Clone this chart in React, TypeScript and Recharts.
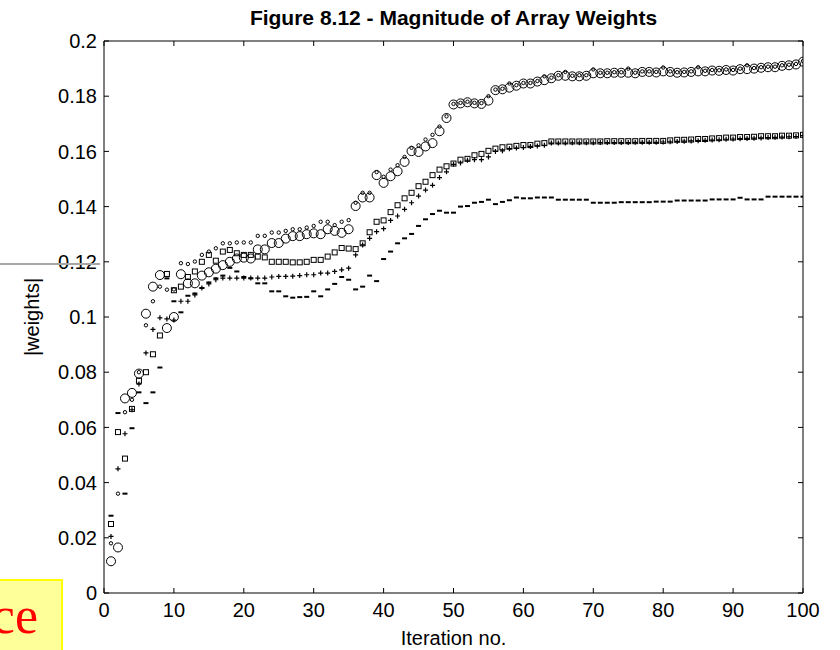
import { ScatterChart, Scatter, XAxis, YAxis, Label } from 'recharts'

// iteration numbers 1..100 (x categories)
const iterations = Array.from({ length: 100 }, (_, i) => i + 1)

// large circles
const circleWeights = [
  0.0115, 0.0165, 0.0705, 0.0725, 0.0795, 0.1012, 0.111, 0.1152, 0.096, 0.1,
  0.1155, 0.1122, 0.1122, 0.115, 0.1162, 0.1175, 0.1188, 0.12, 0.1212, 0.1215,
  0.1212, 0.1245, 0.1245, 0.1268, 0.1268, 0.1284, 0.1293, 0.1293, 0.13, 0.1303,
  0.13, 0.1318, 0.1312, 0.1305, 0.1318, 0.1402, 0.1433, 0.1433, 0.1514, 0.1486,
  0.151, 0.1528, 0.1562, 0.1601, 0.1598, 0.1618, 0.163, 0.1673, 0.1721, 0.177,
  0.1774, 0.1778, 0.1774, 0.1772, 0.1784, 0.1822, 0.1825, 0.1831, 0.1838, 0.1846,
  0.1846, 0.1853, 0.1858, 0.1865, 0.1874, 0.1874, 0.1872, 0.1872, 0.1874, 0.1883,
  0.1883, 0.1883, 0.1885, 0.1885, 0.1885, 0.1883, 0.1888, 0.1888, 0.1886, 0.189,
  0.1888, 0.1885, 0.1886, 0.1888, 0.189, 0.189, 0.1893, 0.1892, 0.1895, 0.1893,
  0.1898, 0.1898, 0.19, 0.1903, 0.1905, 0.1905, 0.191, 0.1912, 0.1915, 0.1925,
]

// small rings
const dotWeights = [
  0.018, 0.036, 0.0655, 0.07, 0.08, 0.097, 0.1057, 0.111, 0.1099, 0.11,
  0.1195, 0.1192, 0.1201, 0.1225, 0.1237, 0.1249, 0.1267, 0.1267, 0.127, 0.127,
  0.127, 0.1294, 0.1294, 0.1306, 0.1306, 0.1312, 0.1318, 0.1318, 0.1324, 0.133,
  0.1345, 0.1345, 0.1333, 0.1345, 0.1351, 0.1414, 0.145, 0.145, 0.1525, 0.1508,
  0.1534, 0.155, 0.158, 0.1613, 0.1622, 0.1643, 0.166, 0.169, 0.1727, 0.1772,
  0.1776, 0.178, 0.1776, 0.1775, 0.18, 0.1824, 0.1827, 0.1846, 0.184, 0.1848,
  0.1848, 0.1855, 0.1872, 0.1867, 0.1876, 0.1888, 0.1874, 0.1876, 0.1876, 0.1897,
  0.1885, 0.1885, 0.1887, 0.1887, 0.19, 0.1885, 0.189, 0.189, 0.1888, 0.1904,
  0.189, 0.1887, 0.1888, 0.189, 0.1905, 0.1892, 0.1895, 0.1894, 0.1897, 0.1895,
  0.19, 0.1912, 0.1902, 0.1905, 0.1907, 0.1907, 0.1912, 0.1914, 0.1917, 0.1927,
]

// squares
const squareWeights = [
  0.025, 0.0583, 0.0487, 0.0667, 0.0769, 0.08, 0.0865, 0.0933, 0.1156, 0.1097,
  0.111, 0.1145, 0.1165, 0.12, 0.1225, 0.1204, 0.1237, 0.1243, 0.1231, 0.1225,
  0.1225, 0.1219, 0.1216, 0.12, 0.12, 0.12, 0.1198, 0.1198, 0.12, 0.1207,
  0.1207, 0.1219, 0.1234, 0.125, 0.1248, 0.1246, 0.1267, 0.1307, 0.1345, 0.135,
  0.138, 0.1405, 0.143, 0.145, 0.1474, 0.149, 0.1514, 0.1534, 0.1546, 0.1556,
  0.157, 0.1573, 0.1586, 0.1591, 0.1602, 0.161, 0.1615, 0.1617, 0.162, 0.1623,
  0.1623, 0.1628, 0.163, 0.1636, 0.1636, 0.1636, 0.1636, 0.1636, 0.1636, 0.1636,
  0.1636, 0.1637, 0.1637, 0.1637, 0.1637, 0.1637, 0.1638, 0.1638, 0.1638, 0.1638,
  0.164, 0.1642, 0.1642, 0.1643, 0.1645, 0.1645, 0.1647, 0.1648, 0.165, 0.165,
  0.1652, 0.1652, 0.1653, 0.1655, 0.1655, 0.1655, 0.1657, 0.1657, 0.1658, 0.166,
]

// plus signs
const plusWeights = [
  0.0205, 0.045, 0.0577, 0.0664, 0.0757, 0.087, 0.0955, 0.0997, 0.0993, 0.0989,
  0.1057, 0.1057, 0.108, 0.1105, 0.112, 0.1135, 0.1141, 0.1141, 0.1141, 0.1141,
  0.1141, 0.1141, 0.1141, 0.1145, 0.1147, 0.1147, 0.1148, 0.115, 0.1153, 0.1153,
  0.1159, 0.1159, 0.1165, 0.1171, 0.1177, 0.1225, 0.1261, 0.1285, 0.1309, 0.132,
  0.135, 0.1366, 0.139, 0.1414, 0.1438, 0.146, 0.1477, 0.1505, 0.1526, 0.1553,
  0.1558, 0.1568, 0.157, 0.157, 0.158, 0.16, 0.1602, 0.161, 0.1612, 0.1614,
  0.1618, 0.162, 0.1622, 0.163, 0.163, 0.163, 0.1631, 0.1631, 0.1631, 0.1631,
  0.1632, 0.1632, 0.1632, 0.1632, 0.1632, 0.1633, 0.1633, 0.1633, 0.1633, 0.1634,
  0.1635, 0.1636, 0.1637, 0.1638, 0.1639, 0.164, 0.1641, 0.1642, 0.1644, 0.1645,
  0.1646, 0.1647, 0.1648, 0.1649, 0.165, 0.1651, 0.1652, 0.1653, 0.1654, 0.1657,
]

// short dashes
const dashWeights = [
  0.028, 0.0652, 0.036, 0.0597, 0.0727, 0.0688, 0.0727, 0.0817, 0.114, 0.1057,
  0.1017, 0.1077, 0.1085, 0.1105, 0.1125, 0.114, 0.115, 0.1178, 0.1165, 0.1145,
  0.114, 0.1122, 0.1122, 0.1093, 0.1093, 0.1075, 0.107, 0.1072, 0.1073, 0.1093,
  0.1075, 0.11, 0.112, 0.1145, 0.1135, 0.11, 0.111, 0.115, 0.113, 0.121,
  0.1237, 0.1267, 0.1285, 0.1301, 0.133, 0.1354, 0.1373, 0.1385, 0.1378, 0.1378,
  0.14, 0.1402, 0.1414, 0.1417, 0.1425, 0.1409, 0.1417, 0.1423, 0.1433, 0.143,
  0.143, 0.1433, 0.1433, 0.1433, 0.1425, 0.1425, 0.1425, 0.1425, 0.1425, 0.1414,
  0.1414, 0.1414, 0.1414, 0.1416, 0.1416, 0.1416, 0.1416, 0.1416, 0.1418, 0.1418,
  0.1418, 0.1422, 0.1422, 0.1422, 0.1422, 0.1422, 0.1426, 0.1426, 0.1426, 0.1426,
  0.1432, 0.1426, 0.1426, 0.1426, 0.1436, 0.1436, 0.1436, 0.1436, 0.1436, 0.1436,
]

const xTicks = [0, 10, 20, 30, 40, 50, 60, 70, 80, 90, 100]
const yTicks = [0, 0.02, 0.04, 0.06, 0.08, 0.1, 0.12, 0.14, 0.16, 0.18, 0.2]

const toPoints = (values: number[]) => values.map((w, i) => ({ x: iterations[i], y: w }))

const ink = '#000'

const BigRing = (p: any) => <circle cx={p.cx} cy={p.cy} r={4.5} fill="none" stroke={ink} strokeWidth={1} />
const SmallRing = (p: any) => <circle cx={p.cx} cy={p.cy} r={1.7} fill="none" stroke={ink} strokeWidth={1} />
const Box = (p: any) => <rect x={p.cx - 2.5} y={p.cy - 2.5} width={5} height={5} fill="none" stroke={ink} strokeWidth={1} />
const Plus = (p: any) => (
  <path d={`M${p.cx - 2.5},${p.cy}H${p.cx + 2.5}M${p.cx},${p.cy - 2.5}V${p.cy + 2.5}`} stroke={ink} strokeWidth={1.2} />
)
const Dash = (p: any) => <line x1={p.cx - 2.5} x2={p.cx + 2.5} y1={p.cy} y2={p.cy} stroke={ink} strokeWidth={2} />

const tickStyle = { fill: ink, fontSize: 20 }

export default function App() {
  return (
    <div
      style={{
        position: 'absolute', left: 0, top: 0, width: 840, height: 650,
        background: '#fff', fontFamily: '"Liberation Sans", Arial, sans-serif',
      }}
    >
      <ScatterChart width={840} height={650} margin={{ top: 40, right: 36, bottom: 0, left: 0 }}>
        <XAxis
          dataKey="x" type="number" domain={[0, 100]} ticks={xTicks} interval={0}
          allowDataOverflow height={57} tickSize={-5} tickMargin={15}
          stroke={ink} tick={tickStyle}
        >
          <Label value="Iteration no." position="insideBottom" offset={5} fill={ink} fontSize={20} />
        </XAxis>
        {/* mirror axes on top and right, MATLAB box style */}
        <XAxis
          xAxisId="top" orientation="top" dataKey="x" type="number" domain={[0, 100]} ticks={xTicks}
          interval={0} allowDataOverflow height={1} tickSize={-5} stroke={ink}
          tickFormatter={() => ''}
        />
        <YAxis
          dataKey="y" type="number" domain={[0, 0.2]} ticks={yTicks} interval={0}
          allowDataOverflow width={104} tickSize={-5} tickMargin={12}
          stroke={ink} tick={tickStyle}
        >
          <Label
            value="|weights|" angle={-90} position="insideLeft" offset={32}
            fill={ink} fontSize={20} style={{ textAnchor: 'middle' }}
          />
        </YAxis>
        <YAxis
          yAxisId="right" orientation="right" dataKey="y" type="number" domain={[0, 0.2]} ticks={yTicks}
          interval={0} allowDataOverflow width={1} tickSize={-5} stroke={ink}
          tickFormatter={() => ''}
        />
        <Scatter data={toPoints(dashWeights)} shape={Dash} isAnimationActive={false} />
        <Scatter data={toPoints(plusWeights)} shape={Plus} isAnimationActive={false} />
        <Scatter data={toPoints(squareWeights)} shape={Box} isAnimationActive={false} />
        <Scatter
          data={toPoints(dotWeights)} shape={SmallRing} xAxisId="top" yAxisId="right"
          isAnimationActive={false}
        />
        <Scatter data={toPoints(circleWeights)} shape={BigRing} isAnimationActive={false} />
      </ScatterChart>
      <svg
        width={840} height={650}
        style={{ position: 'absolute', left: 0, top: 0, pointerEvents: 'none' }}
      >
        <text x={453.5} y={25} textAnchor="middle" fontSize={21} fontWeight="bold" fill={ink}>
          Figure 8.12 - Magnitude of Array Weights
        </text>
        <line x1={0} x2={100} y1={264} y2={264} stroke="#a6a6a6" strokeWidth={2} />
        <rect x={-2} y={580} width={64} height={80} fill="#ffff99" stroke="#ffff00" strokeWidth={2} />
        <text
          x={38} y={633} textAnchor="end" fontSize={52} fill="#ff0000"
          fontFamily='"Liberation Serif", "Times New Roman", serif'
        >
          ce
        </text>
      </svg>
    </div>
  )
}
